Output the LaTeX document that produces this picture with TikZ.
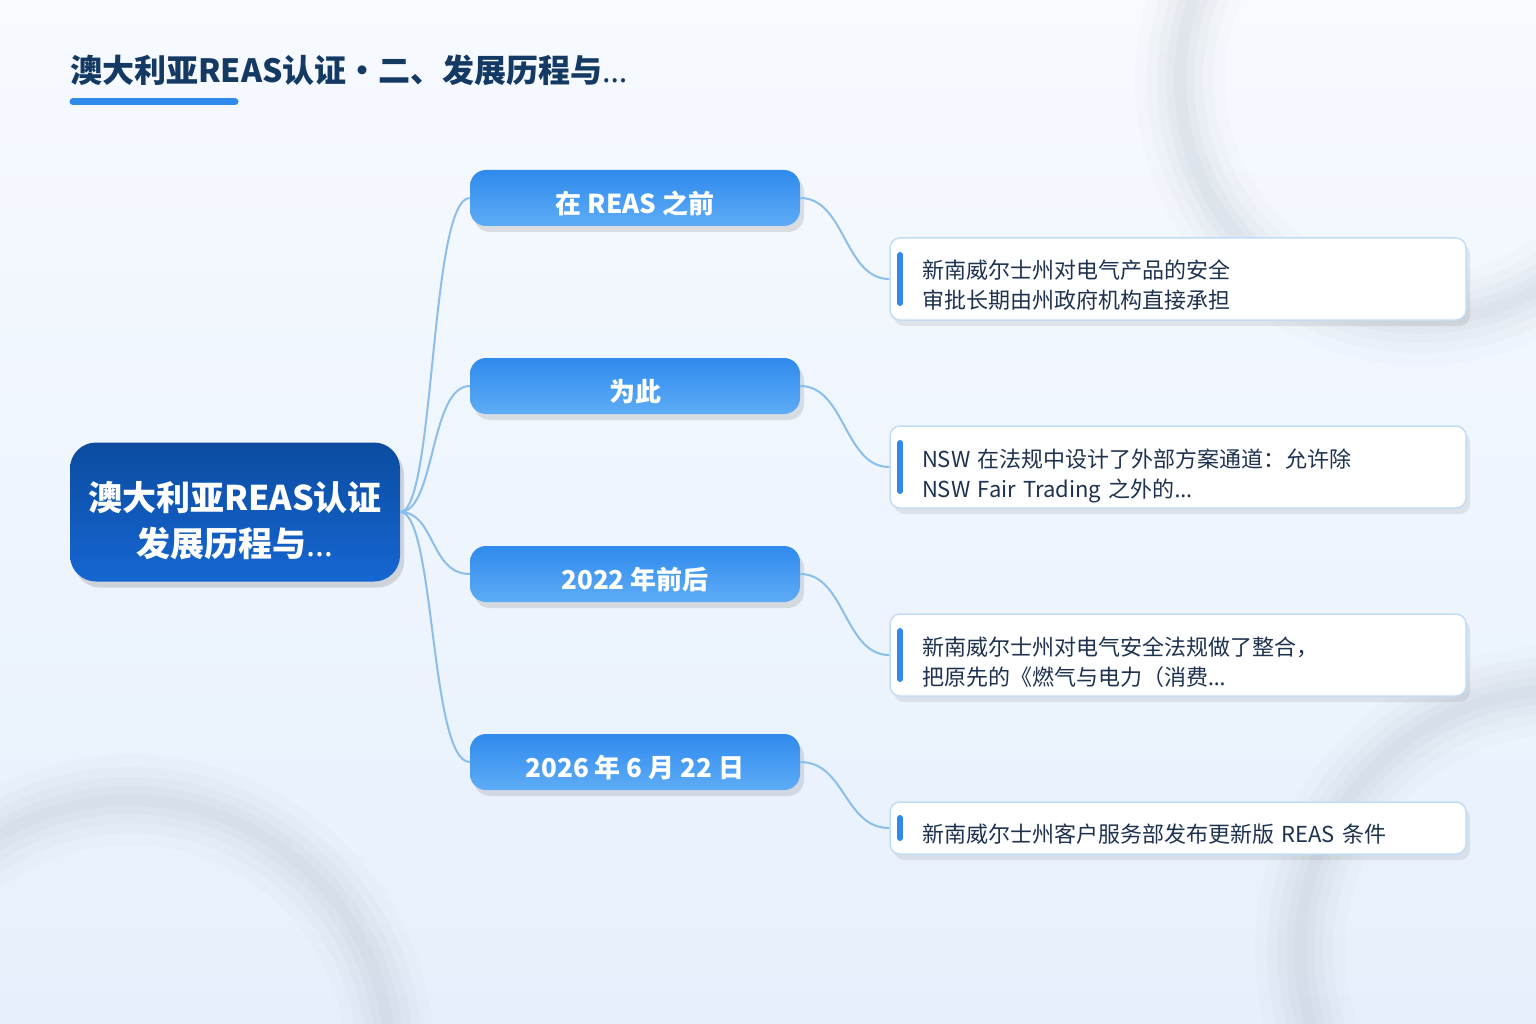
\documentclass[tikz,border=0pt]{standalone}
\usepackage{fontspec}
\setmainfont{Noto Sans CJK SC}
\newfontfamily\latinfont{Noto Sans}
\usetikzlibrary{positioning,shadows,calc}
\definecolor{bgtop}{RGB}{247,250,255}
\definecolor{bgbot}{RGB}{230,240,252}
\definecolor{ringgray}{RGB}{120,130,150}
\definecolor{titlenavy}{RGB}{20,58,100}
\definecolor{accentblue}{RGB}{47,138,236}
\definecolor{roottop}{RGB}{11,76,160}
\definecolor{rootbot}{RGB}{22,102,210}
\definecolor{branchtop}{RGB}{47,138,236}
\definecolor{branchbot}{RGB}{94,172,246}
\definecolor{linkblue}{RGB}{140,190,235}
\definecolor{leafedge}{RGB}{195,220,245}
\definecolor{leaftext}{RGB}{30,50,80}

\begin{document}
\begin{tikzpicture}[x=1pt, y=-1pt,
  rootbox/.style={rounded corners=26pt, minimum width=330pt, minimum height=139pt,
    top color=roottop, bottom color=rootbot, text=white, align=center, inner sep=0pt,
    text height=89pt, text depth=0pt,
    font=\fontsize{34}{46}\selectfont\bfseries,
    drop shadow={opacity=0.28, shadow xshift=4pt, shadow yshift=-6pt}},
  branchbox/.style={rounded corners=16pt, minimum width=330pt, minimum height=56pt,
    top color=branchtop, bottom color=branchbot, text=white, inner sep=0pt,
    text height=31pt, text depth=0pt,
    font=\fontsize{26}{30}\selectfont\bfseries,
    drop shadow={opacity=0.22, shadow xshift=4pt, shadow yshift=-6pt}},
  leafbox/.style={draw=leafedge, line width=1.5pt, fill=white, rounded corners=10pt,
    text width=512pt, inner xsep=32pt, inner ysep=0pt, align=left, text=leaftext,
    minimum height=82pt, text height=15pt, text depth=15pt,
    font=\fontsize{22}{30}\selectfont,
    drop shadow={opacity=0.16, shadow xshift=4pt, shadow yshift=-6pt}},
  link/.style={draw=linkblue, line width=2pt}]
\useasboundingbox (0,0) rectangle (1536,1024);
% background and soft rings
\shade[top color=bgtop, bottom color=bgbot] (0,0) rectangle (1536,1024);
\begin{scope}
  \clip (0,0) rectangle (1536,1024);
  \foreach \w/\o in {90/0.025, 66/0.03, 46/0.035, 28/0.04, 12/0.04}{
    \draw[ringgray, line width=\w pt, opacity=\o] (1420,80) circle (240pt);
    \draw[ringgray, line width=\w pt, opacity=\o] (130,1060) circle (260pt);
    \draw[ringgray, line width=\w pt, opacity=\o] (1560,950) circle (260pt);
  }
\end{scope}
% title
\node[anchor=west, inner sep=0pt, text=titlenavy, font=\fontsize{32}{36}\selectfont\bfseries] (title)
  at (70,70) {澳大利亚REAS认证・二、发展历程与{\latinfont …}};
\draw[accentblue, line width=7pt, line cap=round] (73,102) -- (235,102);
% nodes
\node[rootbox] (root) at (235,512) {澳大利亚REAS认证\\发展历程与{\latinfont …}};
\foreach \i/\y/\t in {1/198/在 REAS 之前, 2/386/为此, 3/574/2022 年前后, 4/762/2026 年 6 月 22 日}
  \node[branchbox] (b\i) at (635,\y) {\t};
\node[leafbox] (l1) at (1178,279)
  {新南威尔士州对电气产品的安全\\审批长期由州政府机构直接承担};
\node[leafbox] (l2) at (1178,467)
  {NSW 在法规中设计了外部方案通道：允许除\\NSW Fair Trading 之外的{\latinfont …}};
\node[leafbox] (l3) at (1178,655)
  {新南威尔士州对电气安全法规做了整合，\\把原先的《燃气与电力（消费{\latinfont …}};
\node[leafbox, minimum height=52pt, text height=28pt, text depth=0pt] (l4) at (1178,828)
  {新南威尔士州客户服务部发布更新版 REAS 条件};
% accent bars
\foreach \i/\h in {1/24, 2/24, 3/24, 4/10}
  \draw[accentblue, line width=6pt, line cap=round] ($(l\i.west)+(11,-\h)$) -- ($(l\i.west)+(11,\h)$);
% connectors
\foreach \i in {1,...,4}{
  \draw[link] (root.east) .. controls +(35,0) and +(-40,0) .. (b\i.west);
  \draw[link] (b\i.east) .. controls +(45,0) and +(-45,0) .. (l\i.west);
}
\end{tikzpicture}
\end{document}
